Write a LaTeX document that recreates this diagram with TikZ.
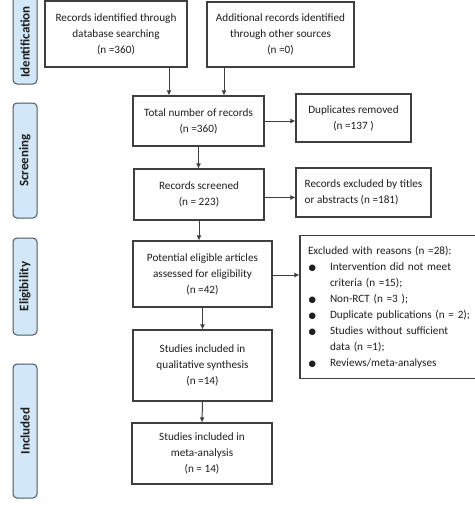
\documentclass[tikz,border=0pt]{standalone}
\usepackage{fontspec}
\setmainfont{Carlito}
\newfontfamily\dv{DejaVu Sans}
\usetikzlibrary{arrows.meta}
\definecolor{bord}{HTML}{3F3F3F}
\definecolor{txt}{HTML}{1E1E1E}
\definecolor{sidefill}{HTML}{D2E8F8}
\definecolor{sidebord}{HTML}{4A5560}
\newcommand{\bul}{\makebox[22pt][l]{\hspace*{0.5pt}{\dv\fontsize{8.5}{8}\selectfont ●}}}
\newcommand{\ind}{\hspace*{22pt}}
\begin{document}
\begin{tikzpicture}[x=1pt,y=-1pt,
  box/.style={draw=bord,line width=1.1pt,fill=white,inner sep=0pt,align=center,
    text=txt,font=\fontsize{11.2}{16}\selectfont},
  lbox/.style={box,align=left,inner xsep=8pt},
  side/.style={draw=sidebord,line width=1pt,fill=sidefill,rounded corners=4pt,
    minimum width=24pt,inner sep=0pt},
  sidetxt/.style={rotate=90,font=\bfseries\fontsize{13}{14}\selectfont,text=txt},
  arr/.style={draw=bord,line width=1pt,-{Latex[length=5pt,width=5pt]}}]
\useasboundingbox (0,0) rectangle (474,514);
% side labels
\node[side,minimum height=92pt] (sid) at (25,38) {};
\node[sidetxt] (sidt) at (25,42) {Identification};
\node[side,minimum height=115pt] (sscr) at (25,160.5) {};
\node[sidetxt] (sscrt) at (25,160.5) {Screening};
\node[side,minimum height=97pt] (selig) at (25,286.5) {};
\node[sidetxt] (seligt) at (25,286.5) {Eligibility};
\node[side,minimum height=134pt] (sinc) at (25,431) {};
\node[sidetxt] (sinct) at (25,431) {Included};
% boxes
\node[box,minimum width=142pt,minimum height=66pt] (b1) at (116,34)
  {Records identified through\\database searching\\(n =360)};
\node[box,minimum width=147pt,minimum height=65pt] (b2) at (280.5,34.5)
  {Additional records identified\\through other sources\\(n =0)};
\node[box,minimum width=131pt,minimum height=50pt] (tot) at (198.5,121)
  {Total number of records\\(n =360)};
\node[box,minimum width=115pt,minimum height=48pt] (dup) at (353.5,118)
  {Duplicates removed\\(n =137 )};
\node[box,minimum width=130pt,minimum height=51pt] (scr) at (199,194.5)
  {Records screened\\(n = 223)};
\node[lbox,inner xsep=4pt,minimum width=135pt,minimum height=49pt] (ex1) at (363.5,192.5)
  {Records excluded by titles\\or abstracts (n =181)};
\node[box,minimum width=139pt,minimum height=66pt] (pot) at (202.5,274)
  {Potential eligible articles\\assessed for eligibility\\(n =42)};
\node[lbox,minimum width=180pt,minimum height=143pt,text width=164pt] (rea) at (390,307)
  {Excluded with reasons (n =28):\\
   \bul Intervention did not meet\\
   \ind criteria (n =15);\\
   \bul Non-RCT (n =3 );\\
   \bul Duplicate publications (n = 2);\\
   \bul Studies without sufficient\\
   \ind data (n =1);\\
   \bul Reviews/meta-analyses};
\node[box,minimum width=139pt,minimum height=71pt] (qual) at (202.5,365.5)
  {Studies included in\\qualitative synthesis\\(n =14)};
\node[box,minimum width=140pt,minimum height=61pt] (meta) at (202,453.5)
  {Studies included in\\meta-analysis\\(n = 14)};
% arrows
\draw[arr] ([xshift=53pt]b1.south) -- ([xshift=53pt]b1.south |- tot.north);
\draw[arr] ([xshift=-56.5pt]b2.south) -- ([xshift=-56.5pt]b2.south |- tot.north);
\draw[arr] (tot.east) -- (tot.east -| dup.west);
\draw[arr] (tot.south) -- (tot.south |- scr.north);
\draw[arr] ([yshift=-3pt]scr.east) -- ([yshift=-3pt]scr.east -| ex1.west);
\draw[arr] (scr.south) -- (scr.south |- pot.north);
\draw[arr] ([yshift=-1pt]pot.east) -- ([yshift=-1pt]pot.east -| rea.west);
\draw[arr] (pot.south) -- (qual.north);
\draw[arr] (qual.south) -- (meta.north);
\end{tikzpicture}
\end{document}
